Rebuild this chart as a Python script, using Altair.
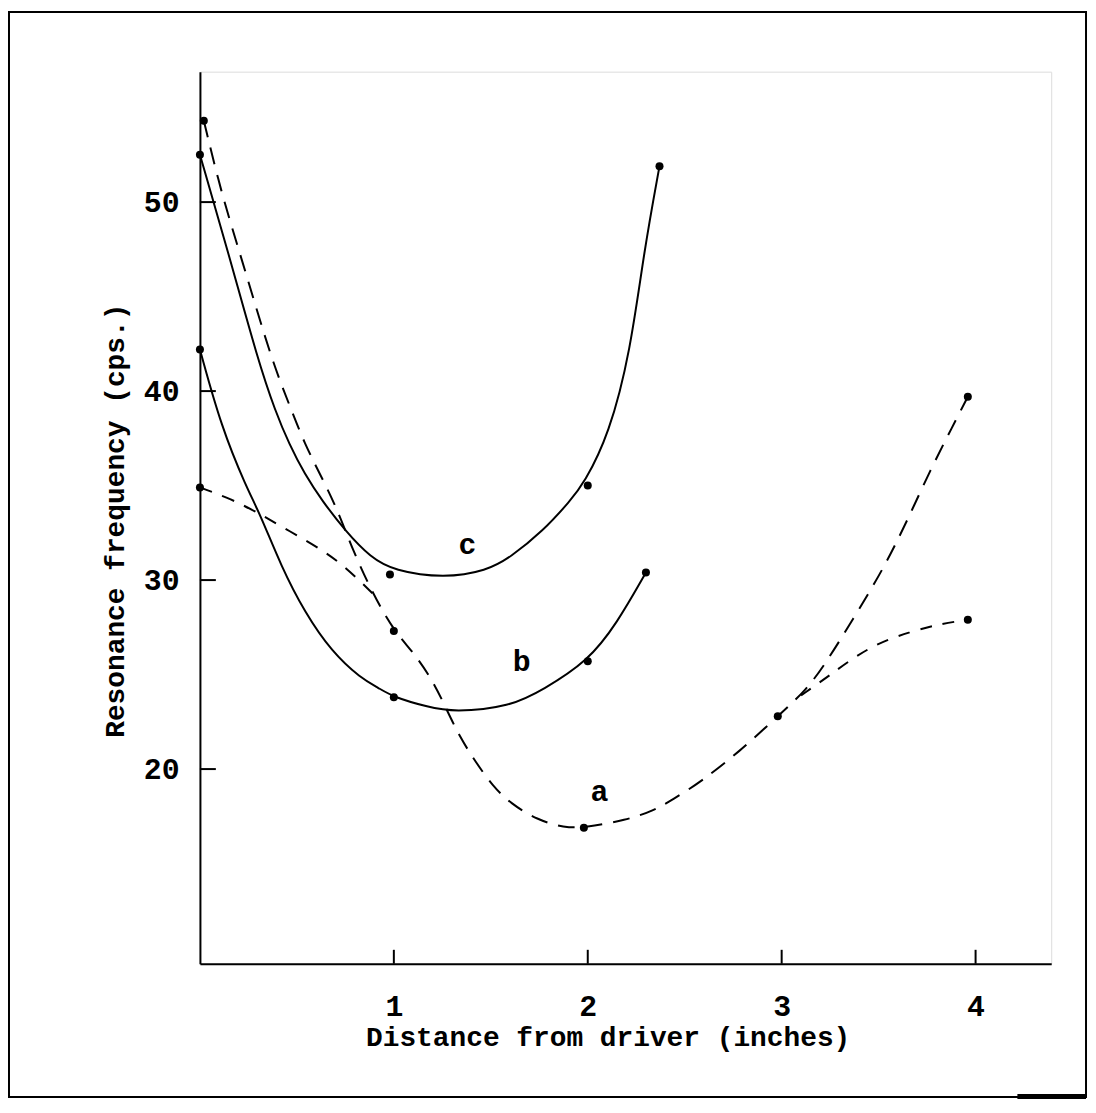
import altair as alt
import pandas as pd

# ---- measured points (dots) ----
a_pts_x = [0.02, 1.0, 1.98, 2.98, 3.96, 0.0, 3.96]
a_pts_y = [54.3, 27.3, 16.9, 22.8, 39.7, 34.9, 27.9]
b_pts_x = [0.0, 1.0, 2.0, 2.30]
b_pts_y = [42.2, 23.8, 25.7, 30.4]
c_pts_x = [0.0, 0.98, 2.0, 2.37]
c_pts_y = [52.5, 30.3, 35.0, 51.9]

# ---- curves as drawn ----
a_x = [0.02, 0.11, 0.2, 0.29, 0.38, 0.46, 0.54, 0.63, 0.71, 0.78, 0.88, 1.0, 1.1, 1.2, 1.27,
       1.34, 1.42, 1.51, 1.6, 1.74, 1.88, 1.98, 2.2, 2.34, 2.44, 2.58, 2.78, 2.98, 3.13,
       3.24, 3.39, 3.53, 3.65, 3.77, 3.88, 3.96]
a_y = [54.3, 50.5, 47.5, 44.4, 41.4, 39.3, 37.2, 35.4, 33.7, 31.8, 29.5, 27.3, 26.2, 24.7, 23.2,
       21.7, 20.4, 19.1, 18.2, 17.3, 16.9, 16.9, 17.3, 17.8, 18.4, 19.3, 20.9, 22.8, 24.2,
       25.8, 28.3, 30.7, 33.2, 35.9, 38.1, 39.7]
a2_left_x = [0.0, 0.16, 0.31, 0.46, 0.63, 0.75, 0.9]
a2_left_y = [34.9, 34.3, 33.5, 32.6, 31.6, 30.7, 29.2]
a2_right_x = [3.1, 3.24, 3.45, 3.67, 3.83, 3.96]
a2_right_y = [23.9, 24.9, 26.5, 27.3, 27.7, 27.9]
b_x = [0.0, 0.11, 0.24, 0.31, 0.42, 0.54, 0.68, 0.83, 0.92, 1.0, 1.17, 1.31, 1.6, 1.77, 2.0, 2.15, 2.30]
b_y = [42.2, 38.1, 34.9, 33.5, 30.7, 28.3, 26.2, 24.8, 24.3, 23.8, 23.3, 23.0, 23.3, 24.2, 25.7, 27.7, 30.4]
c_x = [0.0, 0.15, 0.30, 0.39, 0.46, 0.54, 0.63, 0.75, 0.88, 1.0, 1.26, 1.48, 1.6, 1.77, 1.91, 1.98,
       2.11, 2.22, 2.29, 2.37]
c_y = [52.5, 47.2, 41.6, 38.9, 37.2, 35.6, 34.2, 32.6, 31.2, 30.5, 30.1, 30.5, 31.2, 32.6, 34.2, 35.1,
       37.7, 42.1, 47.4, 51.9]

# ---- curve labels ----
lab_text = ["a", "b", "c"]
lab_x = [2.06, 1.66, 1.38]
lab_y = [18.33, 25.17, 31.37]

x_ticks = [1, 2, 3, 4]
y_ticks = [20, 30, 40, 50]

FONT = "Liberation Mono"
W, H = 856, 897

def df(xs, ys, name):
    return pd.DataFrame({"x": xs, "y": ys, "s": name})

xs = alt.Scale(domain=[0, 4.39], nice=False, zero=False)
ys = alt.Scale(domain=[9.7, 56.9], nice=False, zero=False)

xaxis = alt.Axis(values=x_ticks, ticks=False, grid=False, domainColor="black", domainWidth=2,
                 labelFont=FONT, labelFontSize=30, labelFontWeight="bold", labelColor="black",
                 labelPadding=28, labelBaseline="top", labelFlush=False,
                 title="Distance from driver (inches)", titleFont=FONT, titleFontSize=28,
                 titleFontWeight="bold", titleColor="black", titleX=410, titleY=82,
                 titleBaseline="alphabetic")
yaxis = alt.Axis(values=y_ticks, ticks=False, grid=False, domainColor="black", domainWidth=2,
                 labelFont=FONT, labelFontSize=30, labelFontWeight="bold", labelColor="black",
                 labelPadding=21, labelFlush=False,
                 title="Resonance frequency (cps.)", titleFont=FONT, titleFontSize=28,
                 titleFontWeight="bold", titleColor="black", titleX=-77, titleY=451,
                 titleBaseline="alphabetic")

X = alt.X("x:Q", scale=xs, axis=xaxis)
Y = alt.Y("y:Q", scale=ys, axis=yaxis)

def line(d, dash=None):
    kw = dict(color="black", strokeWidth=2, interpolate="basis")
    if dash:
        kw["strokeDash"] = dash
    return alt.Chart(d).mark_line(**kw).encode(x=X, y=Y, order="x:Q")

layers = [
    line(df(c_x, c_y, "c")),
    line(df(b_x, b_y, "b")),
    line(df(a_x, a_y, "a"), [17, 11]),
    line(df(a2_left_x, a2_left_y, "a2"), [13, 11]),
    line(df(a2_right_x, a2_right_y, "a2r"), [12, 11]),
]

pts = pd.concat([df(a_pts_x, a_pts_y, "a"), df(b_pts_x, b_pts_y, "b"), df(c_pts_x, c_pts_y, "c")])
layers.append(alt.Chart(pts).mark_circle(color="black", size=65, opacity=1).encode(x=X, y=Y))

labs = pd.DataFrame({"x": lab_x, "y": lab_y, "t": lab_text})
layers.append(alt.Chart(labs).mark_text(font=FONT, fontSize=30, fontWeight="bold", color="black",
                                        align="center", baseline="alphabetic").encode(x=X, y=Y, text="t:N"))

# inward tick marks
xt = pd.DataFrame({"x": x_ticks})
layers.append(alt.Chart(xt).mark_rule(color="black", strokeWidth=2).encode(
    x=X, y=alt.value(H), y2=alt.value(H - 14)))
yt = pd.DataFrame({"y": y_ticks})
layers.append(alt.Chart(yt).mark_rule(color="black", strokeWidth=2).encode(
    y=Y, x=alt.value(0), x2=alt.value(16)))

# outer frame of the figure (decoration)
layers.append(alt.Chart(alt.Data(values=[{}])).mark_rect(filled=False, stroke="black", strokeWidth=2).encode(
    x=alt.value(-192), x2=alt.value(891), y=alt.value(-60), y2=alt.value(1031)))
layers.append(alt.Chart(alt.Data(values=[{}])).mark_rect(color="black").encode(
    x=alt.value(822), x2=alt.value(891), y=alt.value(1028), y2=alt.value(1033)))

chart = alt.layer(*layers).properties(
    width=W, height=H,
    autosize=alt.AutoSizeParams(type="none"),
    padding={"left": 193, "top": 61, "right": 37, "bottom": 137},
).configure_view(stroke=None).configure(background="white")

chart.save("out.html", embed_options={"renderer": "svg", "actions": False})
